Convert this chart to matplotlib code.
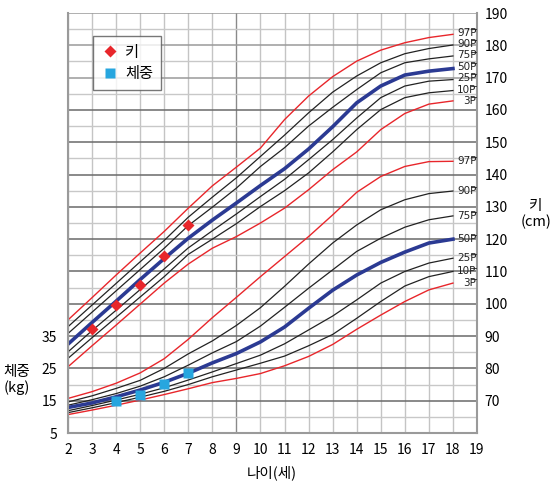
import matplotlib
matplotlib.use("Agg")
import matplotlib.pyplot as plt
from matplotlib.lines import Line2D

plt.rcParams['font.family'] = ['Noto Sans CJK KR', 'DejaVu Sans']

# ages on the x axis (years)
ages = list(range(2, 19))
pct_labels = ['97', '90', '75', '50', '25', '10', '3']

# height percentiles (cm)
height_97 = [95.0, 101.9, 108.9, 115.7, 122.4, 129.6, 136.5, 142.3, 148.2, 157.0, 164.3, 170.3, 175.1, 178.5, 180.8, 182.4, 183.4]
height_90 = [92.9, 99.6, 106.3, 113.0, 119.6, 126.8, 133.0, 139.0, 145.6, 152.2, 159.1, 165.5, 170.5, 174.6, 177.4, 179.0, 180.1]
height_75 = [90.8, 97.4, 104.0, 110.6, 117.2, 124.2, 129.9, 135.8, 142.5, 148.3, 155.0, 160.8, 166.3, 171.5, 174.6, 175.8, 176.7]
height_50 = [87.5, 94.2, 100.8, 107.5, 114.0, 120.3, 125.9, 131.2, 136.6, 141.8, 147.9, 154.8, 162.2, 167.4, 170.8, 172.0, 172.8]
height_25 = [85.1, 91.7, 98.0, 104.4, 110.8, 117.3, 122.6, 127.8, 133.2, 138.5, 144.6, 150.8, 157.5, 163.8, 167.4, 168.9, 169.4]
height_10 = [83.1, 89.5, 95.8, 102.1, 108.4, 115.3, 120.0, 124.8, 130.1, 135.0, 140.5, 147.0, 153.9, 160.1, 163.8, 165.3, 166.0]
height_3 = [80.5, 87.0, 93.4, 99.9, 106.4, 112.3, 117.2, 120.8, 125.0, 129.6, 135.3, 141.5, 147.0, 153.9, 158.9, 161.8, 162.8]

# weight percentiles (kg)
weight_97 = [15.7, 17.8, 20.4, 23.6, 28.0, 34.0, 40.7, 47.0, 53.4, 59.6, 65.8, 72.5, 79.5, 84.4, 87.5, 89.0, 89.1]
weight_90 = [14.6, 16.5, 18.8, 21.3, 25.0, 29.5, 33.5, 38.3, 43.8, 50.4, 57.3, 63.8, 69.4, 74.1, 77.2, 79.1, 79.9]
weight_75 = [13.6, 15.3, 17.2, 19.5, 22.4, 26.0, 29.8, 33.3, 38.1, 43.9, 49.8, 55.5, 61.2, 65.3, 68.7, 71.0, 72.2]
weight_50 = [12.9, 14.3, 16.2, 18.3, 20.7, 23.5, 26.7, 29.6, 33.2, 37.8, 43.6, 49.2, 53.9, 57.8, 61.0, 63.8, 65.0]
weight_25 = [11.9, 13.5, 15.2, 17.0, 19.0, 21.4, 23.9, 26.5, 29.1, 32.6, 36.9, 41.2, 46.2, 51.4, 55.0, 57.6, 59.1]
weight_10 = [11.3, 12.8, 14.4, 16.1, 17.9, 20.0, 22.4, 24.5, 26.6, 28.8, 32.0, 35.5, 40.5, 45.7, 50.5, 53.4, 55.0]
weight_3 = [10.7, 12.1, 13.6, 15.2, 16.9, 18.7, 20.6, 21.9, 23.4, 25.8, 28.7, 32.4, 37.1, 41.5, 45.7, 49.3, 51.4]

# the child's measurements
child_age_h = [3, 4, 5, 6, 7]
child_height = [92.2, 99.6, 105.8, 114.9, 124.4]
child_age_w = [4, 5, 6, 7]
child_weight = [14.8, 16.7, 20.3, 23.7]

height_ticks = list(range(70, 191, 10))
weight_ticks = [5, 15, 25, 35]
age_ticks = list(range(2, 20))

# weight scale sits on the height scale: kg + 55 = cm
W_OFF = 55

heights = [height_97, height_90, height_75, height_50, height_25, height_10, height_3]
weights = [weight_97, weight_90, weight_75, weight_50, weight_25, weight_10, weight_3]

RED = '#e8262b'
BLUE = '#2b3a93'
SKY = '#27a6df'
W, H = 559, 492


def style(p):
    if p in ('97', '3'):
        return dict(color=RED, lw=1.0)
    if p == '50':
        return dict(color=BLUE, lw=2.6)
    return dict(color='#222222', lw=0.9)


def spread(vals, gap):
    # keep end labels from running into each other
    out = []
    for v in vals:
        out.append(v if not out else min(v, out[-1] - gap))
    return out


fig = plt.figure(figsize=(W / 100, H / 100), dpi=100)
ax = fig.add_axes([68 / W, 1 - 433 / H, (477 - 68) / W, (433 - 13) / H])
ax.set_xlim(2, 19)
ax.set_ylim(60, 190)

# grid
for a in age_ticks:
    ax.axvline(a, color='#8a8a8a' if a == 9 else '#c4c4c4', lw=1.0, zorder=0)
for c in range(60, 191, 5):
    if c % 10:
        col, lw = '#c8c8c8', 1.0
    elif c >= 170:
        col, lw = '#9a9a9a', 1.1
    else:
        col, lw = '#6a6a6a', 1.1
    ax.axhline(c, color=col, lw=lw, zorder=0)

# percentile curves
for p, h, w in zip(pct_labels, heights, weights):
    st = style(p)
    ax.plot(ages, h, zorder=2, **st)
    ax.plot(ages, [v + W_OFF for v in w], zorder=2, **st)

h_lab = spread([h[-1] + 0.5 for h in heights], 3.5)
w_lab = spread([w[-1] + W_OFF for w in weights], 3.5)
end_texts = []
for p, yh, yw in zip(pct_labels, h_lab, w_lab):
    for y in (yh, yw):
        end_texts.append(ax.text(18.98, y, p + 'P', ha='right', va='center', fontsize=7.5,
                                 color='#222222', family='DejaVu Sans', zorder=3))

# child's points
ax.plot(child_age_h, child_height, 'D', color=RED, ms=6.5, mec='none', zorder=4, label='키')
ax.plot(child_age_w, [v + W_OFF for v in child_weight], 's', color=SKY, ms=6.5, mec='none',
        zorder=4, label='체중')

leg = ax.legend(loc='upper left', bbox_to_anchor=(0.061, 0.945), fontsize=11, frameon=True,
                fancybox=False, borderpad=0.5, handletextpad=0.4, labelspacing=0.3,
                handlelength=1.2, borderaxespad=0)
leg.get_frame().set_edgecolor('#555555')
leg.get_frame().set_linewidth(1.0)

# axes / ticks
ax.spines['top'].set_visible(False)
for s in ['left', 'right', 'bottom']:
    ax.spines[s].set_color('#9a9a9a')
    ax.spines[s].set_linewidth(1.5)

ax.set_xticks(age_ticks)
ax.tick_params(axis='x', length=0, pad=7, labelsize=10)
ax.yaxis.tick_right()
ax.set_yticks(height_ticks)
ax.tick_params(axis='y', length=0, pad=5.5, labelsize=10)

sec = ax.secondary_yaxis('left', functions=(lambda c: c - W_OFF, lambda w: w + W_OFF))
sec.set_yticks(weight_ticks)
sec.tick_params(length=0, pad=8, labelsize=10)
sec.spines['left'].set_visible(False)

fig.text(536 / W, 1 - 214 / H, '키\n(cm)', ha='center', va='center', fontsize=10.5,
         linespacing=1.1)
fig.text(17 / W, 1 - 380 / H, '체중\n(kg)', ha='center', va='center', fontsize=10.5,
         linespacing=1.1)
fig.text(272 / W, 1 - 473 / H, '나이(세)', ha='center', va='center', fontsize=10.5)

# bar over the "P" of each percentile label
fig.canvas.draw()
rend = fig.canvas.get_renderer()
probe = fig.text(0, 0, 'P', fontsize=7.5, family='DejaVu Sans')
p_w = probe.get_window_extent(rend).width
probe.remove()
for t in end_texts:
    bb = t.get_window_extent(rend)
    yb = bb.y1 - 1.2
    fig.add_artist(Line2D([(bb.x1 - p_w + 0.8) / W, (bb.x1 - 0.3) / W], [yb / H, yb / H],
                          color='#222222', lw=0.6))

fig.savefig('out.png', dpi=100)
